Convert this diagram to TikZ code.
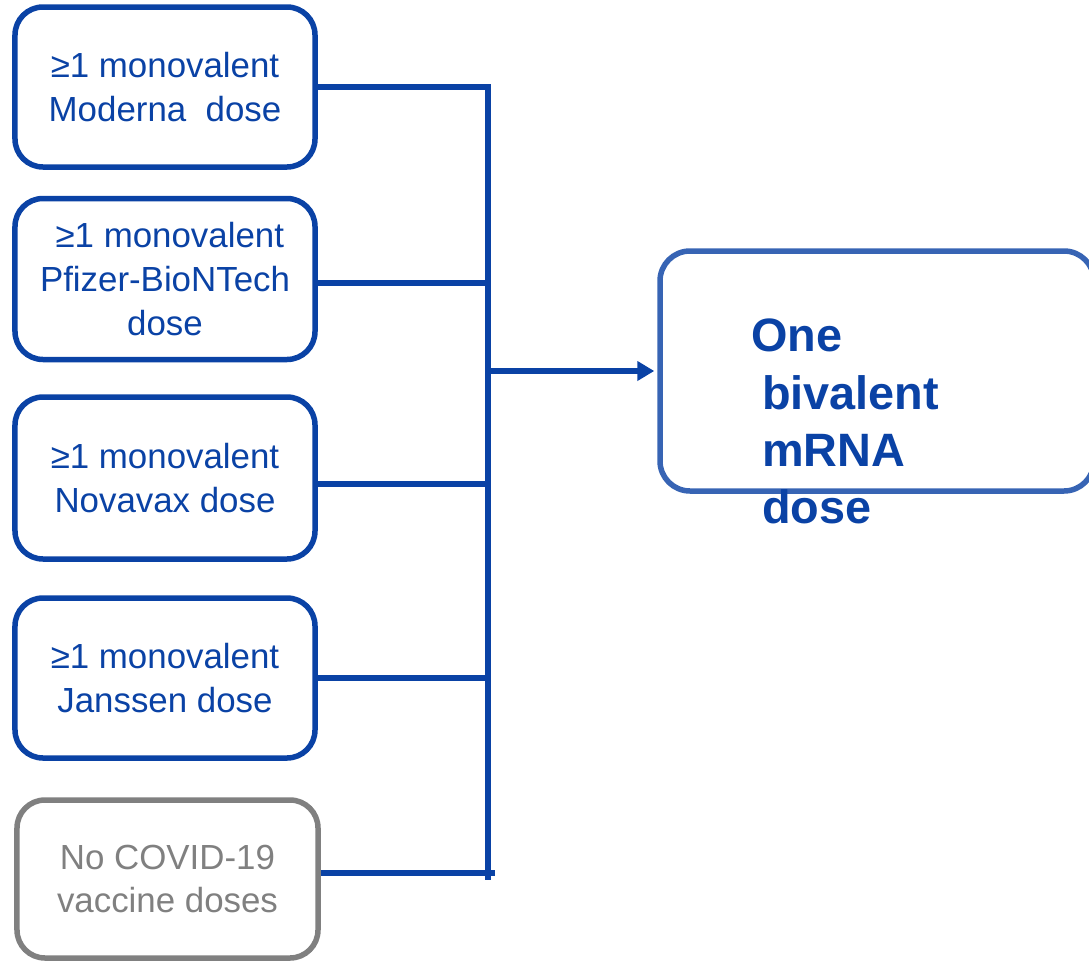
\documentclass[tikz,border=0pt]{standalone}
\usepackage{fontspec}
\setmainfont{Liberation Sans}
\usetikzlibrary{arrows.meta}
\definecolor{dblue}{RGB}{10,66,165}
\definecolor{lblue}{RGB}{55,100,180}
\definecolor{gcol}{RGB}{128,128,128}
\tikzset{
  srcbox/.style={draw=dblue, text=dblue, line width=5.5bp, rounded corners=28bp,
    minimum width=300bp, align=center, inner sep=0pt,
    font=\fontsize{35}{44}\selectfont},
  graybox/.style={srcbox, draw=gcol, text=gcol},
  tgtbox/.style={draw=lblue, line width=5.5bp, rounded corners=30bp,
    minimum width=434bp, minimum height=240bp, inner sep=0pt},
  conn/.style={draw=dblue, line width=5.5bp},
  bigtxt/.style={text=dblue, align=left, inner sep=0pt, anchor=north west,
    font=\fontsize{47}{57.5}\selectfont\bfseries}
}
\begin{document}
\begin{tikzpicture}[x=1bp,y=-1bp]
\useasboundingbox (0,0) rectangle (1089,962);
\node[srcbox, minimum height=160bp] (b1) at (165,87) {≥1 monovalent\\Moderna\ \ dose};
\node[srcbox, minimum height=161bp] (b2) at (165,279) {\ ≥1 monovalent\\Pfizer-BioNTech\\dose};
\node[srcbox, minimum height=162bp] (b3) at (165,478) {≥1 monovalent\\Novavax dose};
\node[srcbox, minimum height=160bp] (b4) at (165,678) {≥1 monovalent\\Janssen dose};
\node[graybox, minimum width=301bp, minimum height=158bp] (b5) at (167.5,879) {No COVID-19\\vaccine doses};
\node[tgtbox] (t) at (877,371) {};
\node[bigtxt] (tl) at (751,319) {One\\\hspace*{11bp}bivalent\\\hspace*{11bp}mRNA\\\hspace*{11bp}dose};
\coordinate (bx) at (488,0);
\coordinate (bbot) at (488,880);
\coordinate (b5end) at (495,0);
\draw[conn] (b1.east) -- (b1.east -| bx) -- (bbot);
\draw[conn] ([yshift=-4bp]b2.east) -- ([yshift=-4bp]b2.east -| bx);
\draw[conn] ([yshift=-6bp]b3.east) -- ([yshift=-6bp]b3.east -| bx);
\draw[conn] (b4.east) -- (b4.east -| bx);
\draw[conn] ([yshift=6bp]b5.east) -- ([yshift=6bp]b5.east -| b5end);
\draw[conn, -{Triangle[length=17bp,width=19bp]}, shorten >=3bp] (t.west -| bx) -- (t.west);
\end{tikzpicture}
\end{document}
